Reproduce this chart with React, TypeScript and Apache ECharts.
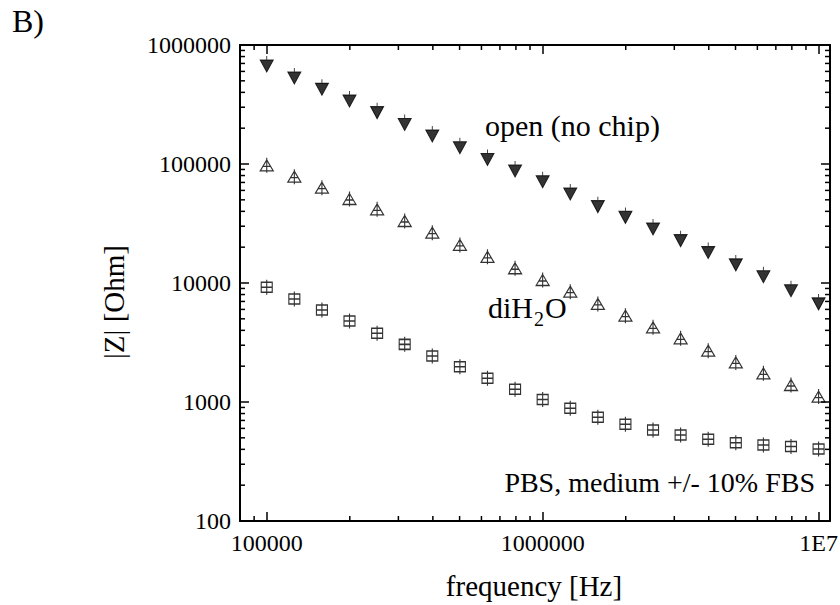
import React, { useEffect, useRef } from "react";
import * as echarts from "echarts";

// Frequencies (Hz), 10 points per decade
const frequencies = [
  100000, 125900, 158500, 199500, 251200, 316200, 398100, 501200, 631000, 794300,
  1000000, 1259000, 1585000, 1995000, 2512000, 3162000, 3981000, 5012000, 6310000, 7943000,
  10000000,
];
// |Z| values (Ohm)
const openNoChip = [
  666000, 528000, 424000, 338000, 270000, 215000, 172000, 137000, 109000, 87400,
  71000, 56000, 43800, 35600, 28400, 22700, 18000, 14200, 11300, 8600, 6670,
];
const diH2O = [
  97500, 78200, 63200, 50800, 41600, 33200, 26500, 20900, 16600, 13300,
  10600, 8450, 6670, 5310, 4240, 3430, 2700, 2150, 1740, 1390, 1110,
];
const pbsMedium = [
  9200, 7340, 5930, 4800, 3780, 3050, 2440, 1980, 1580, 1280,
  1050, 885, 743, 650, 582, 528, 486, 455, 436, 422, 403,
];
// Minor tick values
const xMinorTicks = [
  90000, 200000, 300000, 400000, 500000, 600000, 700000, 800000, 900000,
  2000000, 3000000, 4000000, 5000000, 6000000, 7000000, 8000000, 9000000,
];
const yMinorTicks = [
  200, 300, 400, 500, 600, 700, 800, 900,
  2000, 3000, 4000, 5000, 6000, 7000, 8000, 9000,
  20000, 30000, 40000, 50000, 60000, 70000, 80000, 90000,
  200000, 300000, 400000, 500000, 600000, 700000, 800000, 900000,
];

const X_MIN = 80000;
const X_MAX = 11000000;
const Y_MIN = 100;
const Y_MAX = 1000000;

const FONT = "'Liberation Serif', 'Times New Roman', serif";

const logLabel = (v: number) => {
  const l = Math.log10(v);
  if (Math.abs(l - Math.round(l)) > 1e-6) return "";
  if (Math.round(l) >= 7) return "1E" + Math.round(l);
  return String(Math.round(v));
};

export default function App() {
  const ref = useRef<HTMLDivElement>(null);
  useEffect(() => {
    document.body.style.margin = "0";
    const chart = echarts.init(ref.current!, null, { renderer: "svg" });

    const axisLine = { show: true, lineStyle: { color: "#000", width: 2 } };
    const axisTick = { show: true, inside: true, length: 9, lineStyle: { color: "#000", width: 1.5 } };

    const minorData = [
      ...xMinorTicks.map((v) => [v, Y_MIN * 10, 0]),
      ...yMinorTicks.map((v) => [X_MIN * 2, v, 1]),
    ];

    const option: any = {
      animation: false,
      backgroundColor: "#fff",
      grid: { left: 240, right: 10, top: 45, bottom: 84, containLabel: false, outerBoundsMode: "none" },
      xAxis: [
        {
          type: "log",
          min: X_MIN,
          max: X_MAX,
          position: "bottom",
          axisLine,
          axisTick,
          splitLine: { show: false },
          axisLabel: {
            formatter: logLabel,
            fontFamily: FONT,
            fontSize: 24,
            color: "#000",
            margin: 10,
          },
        },
        {
          type: "log",
          min: X_MIN,
          max: X_MAX,
          position: "top",
          axisLine,
          axisTick,
          splitLine: { show: false },
          axisLabel: { show: false },
        },
      ],
      yAxis: [
        {
          type: "log",
          min: Y_MIN,
          max: Y_MAX,
          position: "left",
          axisLine,
          axisTick,
          splitLine: { show: false },
          axisLabel: {
            formatter: logLabel,
            fontFamily: FONT,
            fontSize: 24,
            color: "#000",
            margin: 9,
          },
        },
        {
          type: "log",
          min: Y_MIN,
          max: Y_MAX,
          position: "right",
          axisLine,
          axisTick,
          splitLine: { show: false },
          axisLabel: { show: false },
        },
      ],
      series: [
        {
          type: "custom",
          name: "minorTicks",
          coordinateSystem: "cartesian2d",
          silent: true,
          clip: false,
          data: minorData,
          renderItem: (params: any, api: any) => {
            const cs = params.coordSys;
            const kind = api.value(2);
            const p = api.coord([api.value(0), api.value(1)]);
            const style = { stroke: "#000", lineWidth: 1.5 };
            const L = 5;
            if (kind === 0) {
              const x = p[0];
              const yb = cs.y + cs.height;
              const yt = cs.y;
              return {
                type: "group",
                children: [
                  { type: "line", shape: { x1: x, y1: yb, x2: x, y2: yb - L }, style },
                  { type: "line", shape: { x1: x, y1: yt, x2: x, y2: yt + L }, style },
                ],
              };
            }
            const y = p[1];
            const xl = cs.x;
            const xr = cs.x + cs.width;
            return {
              type: "group",
              children: [
                { type: "line", shape: { x1: xl, y1: y, x2: xl + L, y2: y }, style },
                { type: "line", shape: { x1: xr, y1: y, x2: xr - L, y2: y }, style },
              ],
            };
          },
        },
        {
          type: "scatter",
          name: "open (no chip)",
          data: frequencies.map((f, i) => [f, openNoChip[i]]),
          symbol: "path://M0,4 L13,4 L6.5,16 Z M6.5,0 L6.5,4",
          symbolSize: [13, 16],
          symbolOffset: [0, -2],
          itemStyle: { color: "#000", borderColor: "#000", borderWidth: 1 },
        },
        {
          type: "scatter",
          name: "diH2O",
          data: frequencies.map((f, i) => [f, diH2O[i]]),
          symbol: "path://M6.5,2 L13,13 L0,13 Z M6.5,0 L6.5,15 M2.5,8.5 L10.5,8.5",
          symbolSize: [13, 15],
          itemStyle: { color: "rgba(0,0,0,0)", borderColor: "#000", borderWidth: 1.2 },
        },
        {
          type: "scatter",
          name: "PBS, medium +/- 10% FBS",
          data: frequencies.map((f, i) => [f, pbsMedium[i]]),
          symbol: "path://M0,2.5 L11,2.5 L11,12.5 L0,12.5 Z M0,7.5 L11,7.5 M5.5,0 L5.5,15",
          symbolSize: [11, 15],
          itemStyle: { color: "rgba(0,0,0,0)", borderColor: "#000", borderWidth: 1.3 },
        },
      ],
      graphic: [
        {
          type: "text",
          x: 12,
          y: 21,
          style: { text: "B)", fontFamily: FONT, fontSize: 32, fill: "#000", textAlign: "left", textVerticalAlign: "middle" },
        },
        {
          type: "text",
          x: 114,
          y: 302,
          rotation: Math.PI / 2,
          style: { text: "|Z| [Ohm]", fontFamily: FONT, fontSize: 29, fill: "#000", textAlign: "center", textVerticalAlign: "middle" },
        },
        {
          type: "text",
          x: 534,
          y: 586,
          style: { text: "frequency [Hz]", fontFamily: FONT, fontSize: 29, fill: "#000", textAlign: "center", textVerticalAlign: "middle" },
        },
        {
          type: "text",
          x: 485,
          y: 125,
          style: { text: "open (no chip)", fontFamily: FONT, fontSize: 30, fill: "#000", textAlign: "left", textVerticalAlign: "middle" },
        },
        {
          type: "text",
          x: 488,
          y: 307,
          style: { text: "diH", fontFamily: FONT, fontSize: 30, fill: "#000", textAlign: "left", textVerticalAlign: "middle" },
        },
        {
          type: "text",
          x: 534,
          y: 319,
          style: { text: "2", fontFamily: FONT, fontSize: 20, fill: "#000", textAlign: "left", textVerticalAlign: "middle" },
        },
        {
          type: "text",
          x: 545,
          y: 307,
          style: { text: "O", fontFamily: FONT, fontSize: 30, fill: "#000", textAlign: "left", textVerticalAlign: "middle" },
        },
        {
          type: "text",
          x: 815,
          y: 482,
          style: { text: "PBS, medium +/- 10% FBS", fontFamily: FONT, fontSize: 28, fill: "#000", textAlign: "right", textVerticalAlign: "middle" },
        },
      ],
    };
    chart.setOption(option);
    return () => chart.dispose();
  }, []);
  return (
    <div
      ref={ref}
      style={{ position: "fixed", left: 0, top: 0, width: 840, height: 605, background: "#fff" }}
    />
  );
}
